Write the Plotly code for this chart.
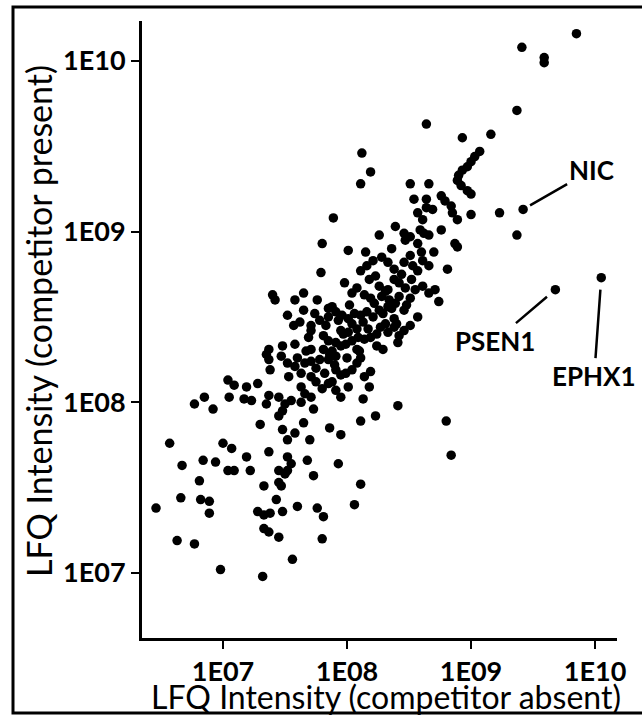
import plotly.graph_objects as go

# log10 LFQ intensities
absent_log10 = [
    9.85, 9.41, 9.59, 9.59, 9.37, 8.64, 8.93, 9.16, 9.07, 9.03, 9.00, 8.97, 8.93, 8.90, 8.89, 8.92,
    8.97, 9.00, 8.12, 8.19, 8.11, 8.51, 8.66, 8.54, 8.64, 8.76, 8.79, 8.84, 8.85, 8.89, 8.64, 8.69,
    8.57, 8.61, 9.00, 9.23, 9.42, 7.89, 8.39, 8.46, 8.51, 8.59, 8.62, 8.76,
    9.37, 7.80, 8.01, 8.26, 8.36, 8.47, 8.57, 8.66, 8.87, 8.89, 8.21, 8.28, 8.33, 8.46, 8.51, 8.61,
    8.66, 8.81, 8.57, 8.38, 8.16, 7.79, 8.11, 7.98, 8.08, 8.18, 8.23, 8.26, 8.33, 8.38, 8.42, 8.47,
    8.52, 8.61, 8.66, 8.71, 8.74, 8.04, 8.14, 8.19, 8.28, 8.34, 8.42, 8.51, 7.40, 7.42, 7.65, 7.58,
    7.76, 7.85, 7.91, 7.96, 8.01, 8.04, 8.11, 8.16, 8.21, 8.26, 8.33, 8.39, 8.46, 8.38, 8.31, 8.08,
    7.95, 8.01, 7.85, 7.78, 7.71, 7.65, 7.57, 7.52, 8.46, 8.42, 8.38, 8.51, 8.57, 7.48, 7.58, 7.71,
    7.81, 7.85, 7.91, 7.95, 7.99, 8.04, 8.08, 8.14, 8.19, 8.24, 8.29, 8.33, 8.41, 7.37, 7.35, 7.37,
    7.71, 7.81, 7.86, 7.91, 7.38, 7.52, 7.58, 7.66, 7.71, 7.78, 7.85, 7.90, 7.91, 7.95, 7.88, 7.99,
    8.04, 8.08, 8.11, 8.14, 8.19, 8.18, 7.53, 7.63, 7.71, 7.75, 7.04, 7.09, 7.19, 7.28, 6.77, 6.85,
    6.92, 7.05, 7.17, 7.23, 7.37, 7.45, 7.50, 7.48, 7.55, 7.63, 7.66, 7.71, 7.80, 7.85, 7.91, 7.95,
    8.01, 8.13, 8.41, 7.35, 8.80, 8.84, 6.57, 6.67, 6.84, 6.94, 7.00, 7.07, 7.19, 7.30, 7.37, 7.45,
    7.48, 7.52, 7.52, 7.55, 7.58, 7.65, 7.70, 7.68, 7.73, 7.86, 7.95, 7.93, 8.11, 8.23,
    9.68, 10.05,
    7.04, 7.09, 7.22, 7.52, 7.50, 7.45, 7.73, 6.81, 7.33, 7.45, 7.47, 8.11, 6.66, 6.82, 6.89, 6.89,
    6.46, 7.43, 7.60, 7.76, 7.81, 8.06, 7.28, 7.33, 7.38, 7.48, 7.33, 7.37, 7.45, 7.80, 6.63, 6.77,
    7.56, 6.98, 7.32,
    7.62, 7.69, 7.74, 7.83, 7.88, 7.93, 7.97, 8.02, 8.06, 8.09, 8.13, 8.17, 8.22, 8.24, 8.29, 8.31,
    8.36, 8.40, 8.44, 8.48, 8.53, 8.55, 8.60, 7.60, 7.67, 7.75, 7.82, 7.88, 7.63, 7.47, 8.00, 8.10,
    8.27, 8.70, 8.15,
]
present_log10 = [
    10.16, 10.08, 10.02, 9.99, 9.71, 9.63, 9.55, 9.57, 9.47, 9.44, 9.41, 9.38, 9.36, 9.33, 9.30, 9.27,
    9.24, 9.22, 9.46, 9.35, 9.28, 9.28, 9.28, 9.19, 9.19, 9.21, 9.18, 9.15, 9.11, 9.07, 9.14, 9.13,
    9.11, 9.07, 9.10, 9.11, 9.13, 9.08, 9.03, 8.99, 8.97, 9.01, 8.99, 9.01,
    8.98, 8.93, 8.89, 8.98, 8.90, 8.95, 8.93, 8.98, 8.93, 8.91, 8.83, 8.85, 8.82, 8.82, 8.86, 8.83,
    8.80, 8.78, 8.77, 8.78, 8.80, 8.76, 8.77, 8.70, 8.67, 8.72, 8.74, 8.68, 8.66, 8.72, 8.70, 8.67,
    8.72, 8.68, 8.64, 8.66, 8.59, 8.64, 8.63, 8.61, 8.62, 8.60, 8.62, 8.61, 8.63, 8.60, 8.64, 8.60,
    8.60, 8.55, 8.53, 8.51, 8.49, 8.46, 8.51, 8.53, 8.50, 8.54, 8.56, 8.58, 8.54, 8.49, 8.46, 8.43,
    8.42, 8.41, 8.50, 8.48, 8.45, 8.54, 8.45, 8.51, 8.42, 8.39, 8.44, 8.45, 8.50, 8.33, 8.34, 8.42,
    8.39, 8.36, 8.35, 8.33, 8.34, 8.36, 8.31, 8.37, 8.38, 8.33, 8.31, 8.41, 8.35, 8.31, 8.28, 8.25,
    8.31, 8.31, 8.28, 8.27, 8.19, 8.23, 8.21, 8.23, 8.24, 8.25, 8.25, 8.22, 8.19, 8.16, 8.12, 8.17,
    8.19, 8.23, 8.26, 8.15, 8.18, 8.09, 8.15, 8.17, 8.15, 8.12, 8.13, 8.10, 8.09, 8.11, 7.99, 8.03,
    7.96, 8.03, 8.02, 8.01, 8.04, 8.03, 7.99, 7.95, 8.01, 8.00, 8.05, 8.03, 8.08, 8.11, 8.07, 8.03,
    8.09, 8.02, 7.98, 7.99, 7.89, 7.69, 7.76, 7.63, 7.66, 7.65, 7.76, 7.73, 7.68, 7.87, 7.71, 7.92,
    7.84, 7.78, 7.68, 7.64, 7.82, 7.88, 7.78, 7.66, 7.96, 7.85, 7.81, 7.64, 7.89, 7.92,
    8.66, 8.73,
    7.60, 7.60, 7.60, 7.60, 7.58, 7.60, 7.57, 7.54, 7.51, 7.53, 7.51, 7.52, 7.44, 7.43, 7.42, 7.35,
    7.38, 7.43, 7.39, 7.38, 7.33, 7.40, 7.36, 7.34, 7.35, 7.36, 7.26, 7.24, 7.21, 7.20, 7.19, 7.17,
    7.08, 7.02, 6.98,
    8.47, 8.38, 8.52, 8.45, 8.56, 8.48, 8.40, 8.57, 8.52, 8.38, 8.47, 8.43, 8.58, 8.40, 8.52, 8.65,
    8.55, 8.46, 8.75, 8.57, 8.80, 8.66, 8.88, 8.26, 8.30, 8.20, 8.17, 8.30, 8.09, 8.27, 8.26, 8.30,
    8.44, 8.88, 8.88,
]

label_names = ["NIC", "PSEN1", "EPHX1"]
label_absent_log10 = [9.42, 9.68, 10.05]
label_present_log10 = [9.13, 8.66, 8.73]

tick_values = [1e7, 1e8, 1e9, 1e10]
tick_labels = ["1E07", "1E08", "1E09", "1E10"]

x_title = "LFQ Intensity (competitor absent)"
y_title = "LFQ Intensity (competitor present)"

x_vals = [10 ** v for v in absent_log10]
y_vals = [10 ** v for v in present_log10]

W, H = 642, 717
ML, MR, MT, MB = 142, 25, 21, 79
PW, PH = W - ML - MR, H - MT - MB


def px_x(p):
    return (p - ML) / PW


def px_y(p):
    return (H - MB - p) / PH


fig = go.Figure()
fig.add_trace(go.Scatter(
    x=x_vals, y=y_vals, mode="markers",
    marker=dict(color="black", size=9.5, line=dict(width=0)),
    hoverinfo="x+y", showlegend=False,
))

axis_common = dict(
    type="log", showgrid=False, zeroline=False,
    showline=True, linecolor="black", linewidth=3,
    ticks="outside", ticklen=8, tickwidth=2, tickcolor="black",
    tickvals=tick_values, ticktext=tick_labels,
    tickfont=dict(family="Lato", size=27, color="black", weight="bold"),
)

fig.update_layout(
    width=W, height=H,
    margin=dict(l=ML, r=MR, t=MT, b=MB, pad=0),
    paper_bgcolor="white", plot_bgcolor="white",
    xaxis=dict(range=[6.347, 10.177], **axis_common),
    yaxis=dict(range=[6.619, 10.234], **axis_common),
    font=dict(family="Lato", color="black"),
)

offsets = {"NIC": (68, -39, 8), "PSEN1": (-60, 51, 11), "EPHX1": (-7, 98, 12)}
for name, lx, ly in zip(label_names, label_absent_log10, label_present_log10):
    ax, ay, so = offsets[name]
    fig.add_annotation(
        x=lx, y=ly, xref="x", yref="y", text=name,
        showarrow=True, arrowhead=0, arrowwidth=2.5, arrowcolor="black",
        ax=ax, ay=ay, standoff=so,
        font=dict(family="Lato", size=26, color="black", weight="bold"),
    )

fig.add_annotation(
    x=px_x(386), y=px_y(696), xref="paper", yref="paper", text=x_title,
    showarrow=False, xanchor="center", yanchor="middle",
    font=dict(family="Lato", size=32, color="black"),
)
fig.add_annotation(
    x=px_x(38), y=px_y(321), xref="paper", yref="paper", text=y_title,
    showarrow=False, xanchor="center", yanchor="middle", textangle=-90,
    font=dict(family="Lato", size=34, color="black"),
)

fig.add_shape(
    type="rect", xref="paper", yref="paper",
    x0=px_x(13), x1=px_x(646), y0=px_y(713), y1=px_y(7),
    line=dict(color="black", width=3), fillcolor="rgba(0,0,0,0)", layer="above",
)

fig.write_html(
    "out.html",
    config={"displayModeBar": False},
    post_script="document.body.style.margin='0';document.body.style.overflow='hidden';",
)
